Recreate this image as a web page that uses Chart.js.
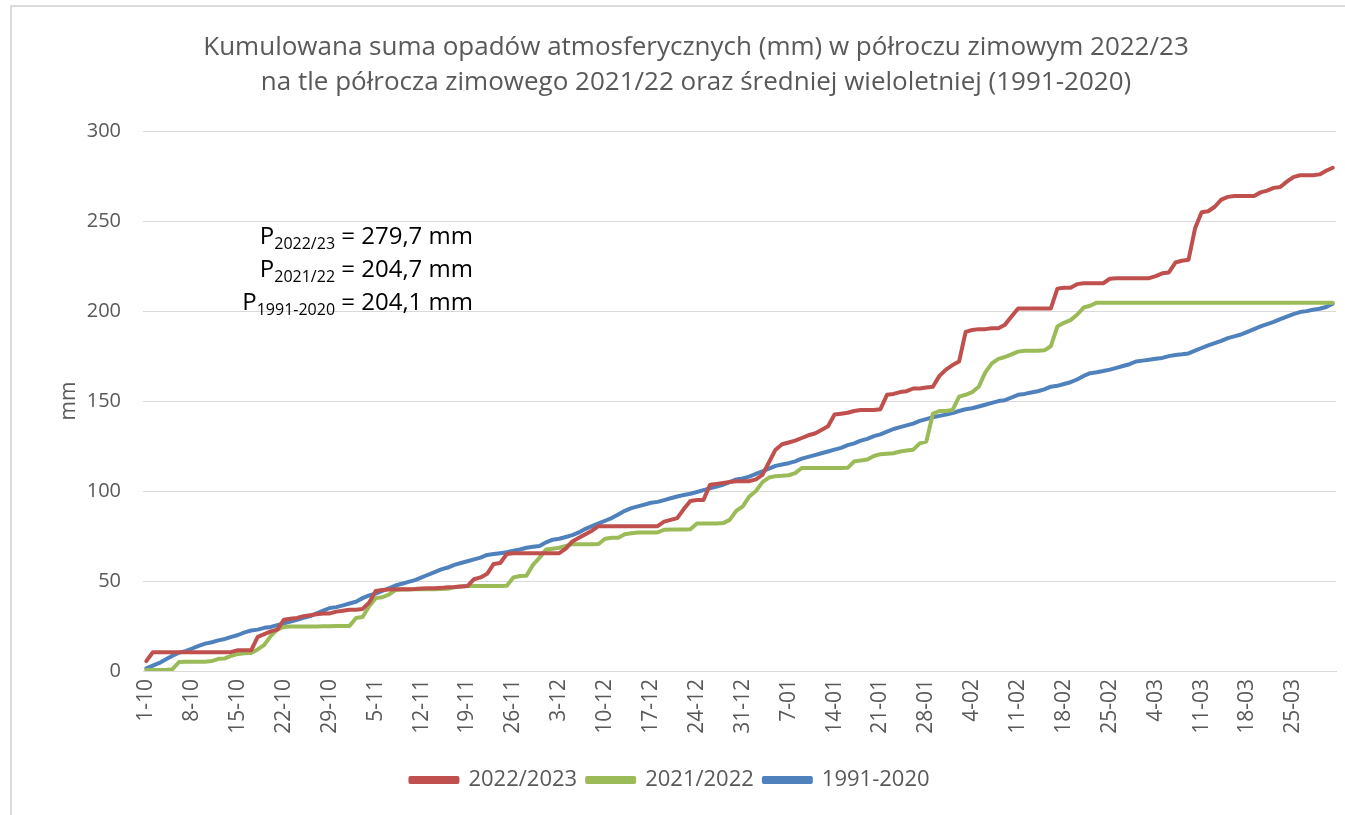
<!DOCTYPE html>
<html lang="pl">
<head>
<meta charset="utf-8">
<title>Kumulowana suma opadów</title>
<script src="https://cdn.jsdelivr.net/npm/chart.js@4"></script>
<style>
  html, body { margin: 0; padding: 0; background: #fff; }
  #frame { position: absolute; left: 10px; top: 5px; width: 1400px; height: 900px;
           border-left: 2px solid #dcdcdc; border-top: 2px solid #dcdcdc; }
  #wrap { position: absolute; left: 0; top: 0; width: 1345px; height: 815px; }
</style>
</head>
<body>
<div id="frame"></div>
<div id="wrap"><canvas id="chart" width="1345" height="815"></canvas></div>
<script>
// months of the winter half-year, Oct 1 .. Mar 31
const months = [["10", 31], ["11", 30], ["12", 31], ["01", 31], ["02", 28], ["03", 31]];
const categories = [];
months.forEach(([m, n]) => { for (let d = 1; d <= n; d++) categories.push(d + "-" + m); });

const tickLabels = ["1-10", "8-10", "15-10", "22-10", "29-10", "5-11", "12-11", "19-11", "26-11",
  "3-12", "10-12", "17-12", "24-12", "31-12", "7-01", "14-01", "21-01", "28-01", "4-02",
  "11-02", "18-02", "25-02", "4-03", "11-03", "18-03", "25-03"];

// cumulative precipitation (mm)
const p2022_23 = [
  5.5, 10.4, 10.4, 10.4, 10.4, 10.4, 10.4, 10.4, 10.4, 10.4,
  10.4, 10.4, 10.4, 10.6, 11.5, 11.5, 11.5, 19, 20.5, 22,
  23, 28.5, 29, 29.5, 30.5, 31, 31.5, 32, 32, 33,
  33.5, 34, 34, 34.5, 38, 44.5, 45, 45.3, 45.5, 45.5,
  45.5, 45.6, 45.8, 46, 46, 46.2, 46.5, 46.7, 47, 47.2,
  51, 52, 54, 59.5, 60, 65, 65.5, 65.5, 65.5, 65.5,
  65.5, 65.5, 65.5, 65.5, 68, 72, 74, 76, 78, 80.5,
  80.5, 80.5, 80.5, 80.5, 80.5, 80.5, 80.5, 80.5, 80.5, 83,
  84, 85, 90, 94.5, 95, 95, 103.5, 104, 104.5, 105,
  105.5, 105.5, 105.5, 106.5, 109, 116, 123, 126, 127, 128,
  129.5, 131, 132, 134, 136, 142.5, 143, 143.5, 144.5, 145,
  145, 145, 145.5, 153.5, 154, 155, 155.5, 157, 157, 157.5,
  158, 164, 167.5, 170, 172, 188.5, 189.5, 190, 190, 190.5,
  190.5, 192.5, 197, 201.5, 201.5, 201.5, 201.5, 201.5, 201.5, 212.5,
  213, 213, 215, 215.5, 215.5, 215.5, 215.5, 218, 218.3, 218.3,
  218.3, 218.3, 218.3, 218.3, 219.5, 221, 221.5, 227, 228, 228.5,
  246, 255, 255.5, 258, 262, 263.5, 264, 264, 264, 264,
  266, 267, 268.5, 269, 272, 274.5, 275.5, 275.5, 275.5, 276,
  278, 279.7
];
const p2021_22 = [
  0.6, 0.6, 0.6, 0.6, 1, 5, 5.2, 5.2, 5.2, 5.2,
  5.5, 6.8, 7, 8.5, 9.5, 9.8, 10, 12, 14.5, 19.5,
  23, 24.5, 24.7, 24.8, 24.8, 24.8, 24.8, 24.9, 24.9, 25,
  25, 25, 29.5, 30, 36, 40.5, 41, 42.5, 45, 45.3,
  45.3, 45.4, 45.5, 45.5, 45.5, 45.6, 45.7, 46.5, 47, 47.2,
  47.2, 47.2, 47.2, 47.2, 47.3, 47.4, 52, 52.8, 53, 59,
  63, 67.5, 68, 68.5, 69.5, 70.5, 70.5, 70.5, 70.5, 70.6,
  73.5, 74, 74, 76, 76.5, 77, 77, 77, 77, 78.5,
  78.7, 78.7, 78.7, 78.8, 82, 82, 82, 82, 82.2, 84,
  89, 91.5, 97, 100, 105, 107.5, 108.3, 108.5, 108.8, 110,
  112.8, 112.8, 112.8, 112.8, 112.8, 112.8, 112.8, 112.9, 116.5, 117,
  117.5, 119.5, 120.5, 120.8, 121, 122, 122.5, 123, 126.5, 127.5,
  143, 144.5, 144.5, 145, 152.5, 153.5, 155, 158, 166, 171,
  173.5, 174.5, 176, 177.5, 178, 178, 178, 178.2, 180.5, 191.5,
  193.5, 195, 198, 202, 203, 204.7, 204.7, 204.7, 204.7, 204.7,
  204.7, 204.7, 204.7, 204.7, 204.7, 204.7, 204.7, 204.7, 204.7, 204.7,
  204.7, 204.7, 204.7, 204.7, 204.7, 204.7, 204.7, 204.7, 204.7, 204.7,
  204.7, 204.7, 204.7, 204.7, 204.7, 204.7, 204.7, 204.7, 204.7, 204.7,
  204.7, 204.7
];
const p1991_2020 = [
  1.5, 3, 4.5, 6.5, 8.5, 10.2, 11, 12.5, 14, 15.2,
  16, 17, 17.8, 19, 20, 21.5, 22.5, 23, 24, 24.5,
  25.5, 26.5, 27.5, 28.5, 29.5, 30.5, 32, 33.5, 35, 35.5,
  36.5, 37.5, 38.5, 40.5, 42, 43, 44.5, 46, 47.5, 48.5,
  49.5, 50.5, 52, 53.5, 55, 56.5, 57.5, 59, 60, 61,
  62, 63, 64.5, 65, 65.5, 66, 66.8, 67.5, 68.5, 69,
  69.5, 71.5, 73, 73.5, 74.5, 75.5, 77, 79, 80.5, 82,
  83.5, 85, 87, 89, 90.5, 91.5, 92.5, 93.5, 94, 95,
  96, 97, 97.8, 98.5, 99.5, 100.5, 101.5, 102.5, 103.5, 105,
  106.5, 107, 108, 109.5, 111, 112.5, 114, 114.8, 115.5, 116.5,
  118, 119, 120, 121, 122, 123, 124, 125.5, 126.5, 128,
  129, 130.5, 131.5, 133, 134.5, 135.5, 136.5, 137.5, 139, 140,
  141, 141.8, 142.5, 143.3, 144.5, 145.5, 146, 147, 148, 149,
  150, 150.5, 152, 153.5, 154, 154.8, 155.5, 156.5, 158, 158.5,
  159.5, 160.5, 162, 164, 165.5, 166, 166.7, 167.5, 168.5, 169.5,
  170.5, 172, 172.5, 173, 173.5, 174, 175, 175.6, 176, 176.5,
  178, 179.5, 181, 182.2, 183.5, 185, 186, 187, 188.5, 190,
  191.5, 192.8, 194, 195.6, 197, 198.3, 199.5, 200, 200.8, 201.3,
  202.3, 204.1
];

const seriesNames = ["2022/2023", "2021/2022", "1991-2020"];
const seriesColors = ["#c0504d", "#9bbb59", "#4f81bd"];

// totals shown as text inside the plot
const totals = [
  ["2022/23", "279,7 mm"],
  ["2021/22", "204,7 mm"],
  ["1991-2020", "204,1 mm"]
];

const FONT = "'Open Sans', 'Liberation Sans', sans-serif";
const GREY = "#595959";

const totalsPlugin = {
  id: "totals",
  afterLayout(chart) {
    // legend in the original sits a bit left of centre
    chart.legend.left -= 26;
    chart.legend.right -= 26;
  },
  afterDraw(chart) {
    const ctx = chart.ctx;
    const right = 473;
    const baselines = [244, 277, 310];
    ctx.save();
    ctx.fillStyle = "#000";
    ctx.textBaseline = "alphabetic";
    totals.forEach(([sub, rest], i) => {
      const big = "24px " + FONT;
      const small = "16px " + FONT;
      ctx.font = big;
      const wP = ctx.measureText("P").width;
      const wRest = ctx.measureText(" = " + rest).width;
      ctx.font = small;
      const wSub = ctx.measureText(sub).width;
      let x = right - wP - wSub - wRest;
      const y = baselines[i];
      ctx.textAlign = "left";
      ctx.font = big;
      ctx.fillText("P", x, y);
      x += wP;
      ctx.font = small;
      ctx.fillText(sub, x, y + 5);
      x += wSub;
      ctx.font = big;
      ctx.fillText(" = " + rest, x, y);
    });
    ctx.restore();
  }
};

new Chart(document.getElementById("chart"), {
  type: "line",
  data: {
    labels: categories,
    datasets: [p2022_23, p2021_22, p1991_2020].map((d, i) => ({
      label: seriesNames[i],
      data: d,
      borderColor: seriesColors[i],
      backgroundColor: seriesColors[i],
      borderWidth: 4,
      pointRadius: 0,
      tension: 0,
      borderJoinStyle: "round",
      borderCapStyle: "round"
    }))
  },
  options: {
    responsive: false,
    animation: false,
    layout: { padding: { left: 56, right: 9, top: 0, bottom: 14 } },
    plugins: {
      title: {
        display: true,
        text: ["Kumulowana suma opadów atmosferycznych (mm) w półroczu zimowym 2022/23",
               "na tle półrocza zimowego 2021/22 oraz średniej wieloletniej (1991-2020)"],
        color: GREY,
        font: { family: FONT, size: 26, weight: "normal", lineHeight: 1.35 },
        padding: { top: 30, bottom: 31 }
      },
      legend: {
        position: "bottom",
        labels: {
          color: GREY,
          font: { family: FONT, size: 22 },
          boxWidth: 47,
          boxHeight: 4,
          padding: 10
        }
      },
      tooltip: { enabled: false }
    },
    scales: {
      x: {
        offset: true,
        grid: { display: false, drawTicks: false },
        border: { color: "#d9d9d9", width: 1 },
        ticks: {
          color: GREY,
          font: { family: FONT, size: 21 },
          autoSkip: false,
          maxRotation: 90,
          minRotation: 90,
          padding: 8,
          callback: function (v, i) {
            const lab = categories[i];
            return tickLabels.includes(lab) && i % 7 === 0 ? lab : null;
          }
        },
        afterFit: (s) => { s.height = 88; }
      },
      y: {
        min: 0,
        max: 300,
        grid: { color: "#d9d9d9", drawTicks: false },
        border: { display: false },
        ticks: {
          stepSize: 50,
          color: GREY,
          font: { family: FONT, size: 20 },
          padding: 22
        },
        title: {
          display: true,
          text: "mm",
          color: GREY,
          font: { family: FONT, size: 21 },
          padding: 0
        },
        afterFit: (s) => { s.width = 87; }
      }
    }
  },
  plugins: [totalsPlugin]
});
</script>
</body>
</html>
